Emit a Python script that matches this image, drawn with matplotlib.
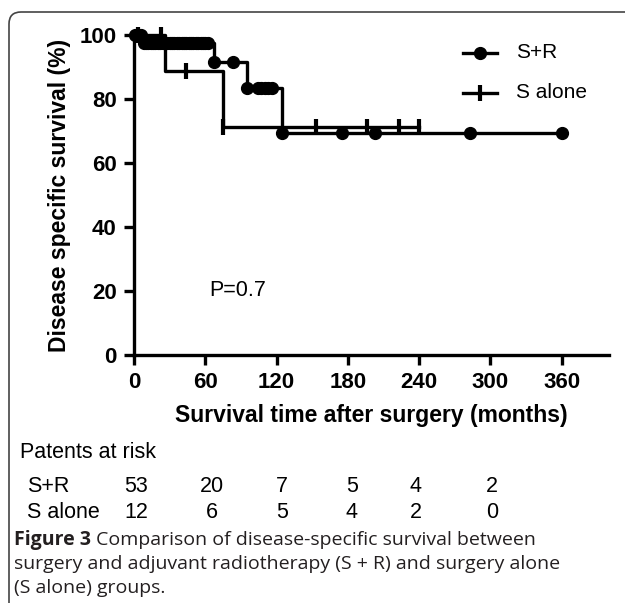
import matplotlib
matplotlib.use("Agg")
import matplotlib.pyplot as plt
import numpy as np
from matplotlib.patches import FancyBboxPatch
from matplotlib.transforms import IdentityTransform

# Kaplan-Meier steps (time in months, survival in %)
sr_step_t = [0, 6, 67, 95, 125, 360]
sr_step_s = [100, 97.5, 91.6, 83.4, 69.5, 69.5]
sr_cens_t = [1, 2.5, 4, 5.5, 8, 10, 12, 14, 16, 18, 20, 22, 24, 26, 28, 30, 32, 34, 36,
             38, 40, 42, 44, 46, 48, 50, 52, 54, 56, 58, 60, 62,
             67, 83, 95, 104, 107, 110, 113, 116, 125, 175, 203, 283, 360]

sa_step_t = [0, 26, 75, 240]
sa_step_s = [100, 88.9, 71.1, 71.1]
sa_cens_t = [3, 23, 44, 75, 153, 196, 223, 240]

risk_sr = [53, 20, 7, 5, 4, 2]
risk_sa = [12, 6, 5, 4, 2, 0]

W, H = 625, 603
fig = plt.figure(figsize=(W / 100, H / 100), dpi=100)
FONT = "Liberation Sans"


def fx(x):
    return x / W


def fy(y):
    return 1 - y / H


def level(ts, ss, t):
    i = np.searchsorted(ts, t, side="right") - 1
    return ss[i]


ax = fig.add_axes([fx(134), fy(355), fx(609) - fx(134), fy(35) - fy(355)])
ax.set_xlim(0, 400)
ax.set_ylim(0, 100)

sr_cens_s = [level(sr_step_t, sr_step_s, t) for t in sr_cens_t]
sa_cens_s = [level(sa_step_t, sa_step_s, t) for t in sa_cens_t]

ax.step(sa_step_t, sa_step_s, where="post", color="black", lw=2.4, clip_on=False)
ax.plot(sa_cens_t, sa_cens_s, "|", color="black", ms=12, mew=3, clip_on=False)
ax.step(sr_step_t, sr_step_s, where="post", color="black", lw=2.4, clip_on=False)
ax.plot(sr_cens_t, sr_cens_s, "o", color="black", ms=8.5, clip_on=False)

# legend drawn by hand
lx0, lx1 = 463, 497
for yy, mk, lab in [(53, "o", "S+R"), (93, "|", "S alone")]:
    fig.add_artist(plt.Line2D([fx(lx0), fx(lx1)], [fy(yy), fy(yy)], color="black", lw=2.4))
    fig.add_artist(plt.Line2D([fx((lx0 + lx1) / 2)], [fy(yy)], marker=mk, color="black",
                              ms=8.5 if mk == "o" else 12, mew=3 if mk == "|" else 1))
    fig.text(fx(516), fy(yy), lab, fontsize=15, family=FONT, va="center")

for s in ["top", "right"]:
    ax.spines[s].set_visible(False)
for s in ["left", "bottom"]:
    ax.spines[s].set_linewidth(2.4)
ax.set_xticks([0, 60, 120, 180, 240, 300, 360])
ax.set_yticks([0, 20, 40, 60, 80, 100])
ax.tick_params(width=2.4, length=7.5, labelsize=16, pad=5)
for lab in ax.get_xticklabels() + ax.get_yticklabels():
    lab.set_fontweight("bold")
    lab.set_family(FONT)
ax.set_xlabel("Survival time after surgery (months)", fontsize=16.5, fontweight="bold",
              family=FONT, labelpad=8)
ax.set_ylabel("Disease specific survival (%)", fontsize=16.5, fontweight="bold",
              family=FONT, labelpad=6)
ax.text(63, 20, "P=0.7", fontsize=15.5, family=FONT, va="center")

# patients at risk table
fig.text(fx(20), fy(452), "Patents at risk", fontsize=15.5, family=FONT, va="center")
fig.text(fx(27), fy(486), "S+R", fontsize=15.5, family=FONT, va="center")
fig.text(fx(27), fy(512), "S alone", fontsize=15.5, family=FONT, va="center")
col_px = [136, 212, 282, 352, 416, 492]
for cx, a, b in zip(col_px, risk_sr, risk_sa):
    fig.text(fx(cx), fy(486), str(a), fontsize=15.5, family=FONT, va="center", ha="center")
    fig.text(fx(cx), fy(512), str(b), fontsize=15.5, family=FONT, va="center", ha="center")

# caption
renderer = fig.canvas.get_renderer()
cap_font = "Open Sans"
cap_kw = dict(fontsize=14, family=cap_font, va="center", color="#231f20")
t1 = fig.text(fx(14), fy(540), "Figure 3", fontweight="bold", **cap_kw)
bb = t1.get_window_extent(renderer)
fig.text((bb.x1 + 5) / W, fy(540), "Comparison of disease-specific survival between", **cap_kw)
fig.text(fx(14), fy(564), "surgery and adjuvant radiotherapy (S + R) and surgery alone", **cap_kw)
fig.text(fx(14), fy(588), "(S alone) groups.", **cap_kw)

# frame around the figure
frame = FancyBboxPatch((9, -30), 660, H - 12 + 30, boxstyle="round,pad=0,rounding_size=12",
                       transform=IdentityTransform(), fill=False, edgecolor="#444444", lw=1.2)
fig.add_artist(frame)

fig.savefig("out.png", dpi=100)
